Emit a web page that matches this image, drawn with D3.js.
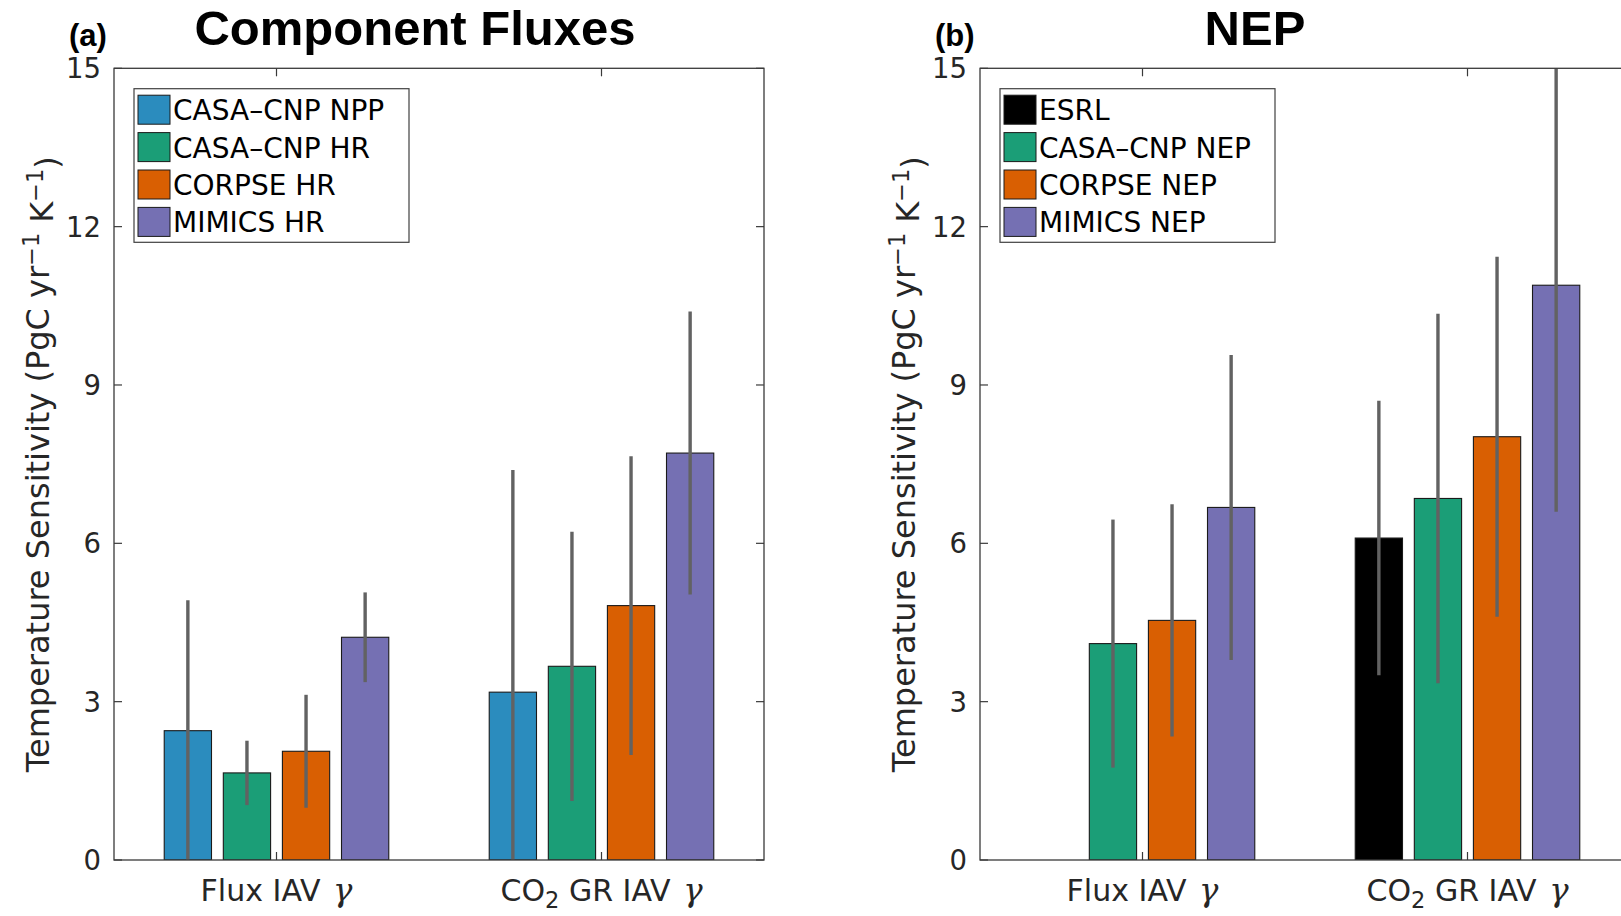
<!DOCTYPE html>
<html>
<head>
<meta charset="utf-8">
<script src="https://cdn.jsdelivr.net/npm/d3@7"></script>
<style>
  html, body { margin: 0; padding: 0; background: #fff; overflow: hidden; }
  svg { display: block; }
</style>
</head>
<body>
<svg id="chart" width="1621" height="916"></svg>
<script>
// ---- data ----
const categories = ["Flux IAV γ", "CO₂ GR IAV γ"];
const yTicks = [0, 3, 6, 9, 12, 15];

// Panel (a): component fluxes
const seriesA = ["CASA–CNP NPP", "CASA–CNP HR", "CORPSE HR", "MIMICS HR"];
const casaNppVal = [2.45, 3.18];
const casaNppErr = [2.47, 4.21];
const casaHrVal = [1.65, 3.67];
const casaHrErr = [0.61, 2.55];
const corpseHrVal = [2.06, 4.82];
const corpseHrErr = [1.07, 2.83];
const mimicsHrVal = [4.22, 7.71];
const mimicsHrErr = [0.85, 2.68];

// Panel (b): NEP
const seriesB = ["ESRL", "CASA–CNP NEP", "CORPSE NEP", "MIMICS NEP"];
const esrlVal = [null, 6.10];
const esrlErr = [null, 2.60];
const casaNepVal = [4.10, 6.85];
const casaNepErr = [2.35, 3.50];
const corpseNepVal = [4.54, 8.02];
const corpseNepErr = [2.20, 3.41];
const mimicsNepVal = [6.68, 10.89];
const mimicsNepErr = [2.89, 4.29];

const colorsA = ["#2b8cbe", "#1b9e77", "#d95f02", "#7570b3"];
const colorsB = ["#000000", "#1b9e77", "#d95f02", "#7570b3"];

const panels = [
  {
    id: "a", tag: "(a)", title: "Component Fluxes", titleX: 415,
    left: 114, names: seriesA, colors: colorsA,
    values: [casaNppVal, casaHrVal, corpseHrVal, mimicsHrVal],
    errors: [casaNppErr, casaHrErr, corpseHrErr, mimicsHrErr]
  },
  {
    id: "b", tag: "(b)", title: "NEP", titleX: 1255,
    left: 980, names: seriesB, colors: colorsB,
    values: [esrlVal, casaNepVal, corpseNepVal, mimicsNepVal],
    errors: [esrlErr, casaNepErr, corpseNepErr, mimicsNepErr]
  }
];

// ---- layout ----
const W = 650, TOP = 68.3, BOTTOM = 860;
const FONT = "'DejaVu Sans', sans-serif";
const AXIS_COLOR = "#3a3a3a";
const TEXT_COLOR = "#262626";
const TICK_LEN = 8;

const svg = d3.select("#chart");

// Writes a label with subscript digits and italic Greek letters as tspans
function richText(sel, str) {
  let sub = false;
  for (const ch of Array.from(str)) {
    if (ch === "₂") {
      sel.append("tspan").attr("dy", "0.32em").attr("font-size", "0.75em").text("2");
      sub = true;
    } else {
      const t = sel.append("tspan").text(ch);
      if (sub) { t.attr("dy", "-0.24em"); sub = false; }
      if (ch === "γ") {
        t.attr("font-style", "italic")
         .attr("font-family", "'DejaVu Serif', serif")
         .attr("font-size", "1.08em")
         .attr("dx", 3);
      }
    }
  }
}

panels.forEach((p) => {
  const x = d3.scaleLinear().domain([0.5, 2.5]).range([p.left, p.left + W]);
  const y = d3.scaleLinear().domain([0, 15]).range([BOTTOM, TOP]);
  const nSeries = p.values.length;
  const groupWidth = Math.min(0.8, nSeries / (nSeries + 1.5));
  const slot = groupWidth / nSeries;
  const barW = slot * 0.8;

  const g = svg.append("g").attr("class", "panel-" + p.id);

  // clip region of the axes
  const clipId = "clip-" + p.id;
  svg.append("defs").append("clipPath").attr("id", clipId)
    .append("rect").attr("x", x(0.5)).attr("y", y(15)).attr("width", W).attr("height", BOTTOM - TOP);

  const plot = g.append("g").attr("clip-path", `url(#${clipId})`);

  // bars
  p.values.forEach((vals, si) => {
    const offset = (si - (nSeries - 1) / 2) * slot;
    vals.forEach((v, ci) => {
      if (v == null) return;
      const cx = ci + 1 + offset;
      plot.append("rect")
        .attr("x", x(cx - barW / 2))
        .attr("y", y(v))
        .attr("width", x(cx + barW / 2) - x(cx - barW / 2))
        .attr("height", y(0) - y(v))
        .attr("fill", p.colors[si])
        .attr("stroke", "#1a1a1a")
        .attr("stroke-width", 1.1);
    });
  });

  // error bars
  p.values.forEach((vals, si) => {
    const offset = (si - (nSeries - 1) / 2) * slot;
    vals.forEach((v, ci) => {
      if (v == null) return;
      const e = p.errors[si][ci];
      const cx = ci + 1 + offset;
      plot.append("line")
        .attr("x1", x(cx)).attr("x2", x(cx))
        .attr("y1", y(v - e)).attr("y2", y(v + e))
        .attr("stroke", "#626262")
        .attr("stroke-width", 3.4);
    });
  });

  // axes box
  g.append("rect")
    .attr("x", x(0.5)).attr("y", y(15))
    .attr("width", W).attr("height", BOTTOM - TOP)
    .attr("fill", "none").attr("stroke", AXIS_COLOR).attr("stroke-width", 1.3);

  // y ticks (inward on both sides) and labels
  yTicks.forEach(t => {
    g.append("line").attr("x1", x(0.5)).attr("x2", x(0.5) + TICK_LEN)
      .attr("y1", y(t)).attr("y2", y(t)).attr("stroke", AXIS_COLOR).attr("stroke-width", 1.2);
    g.append("line").attr("x1", x(2.5)).attr("x2", x(2.5) - TICK_LEN)
      .attr("y1", y(t)).attr("y2", y(t)).attr("stroke", AXIS_COLOR).attr("stroke-width", 1.2);
    g.append("text")
      .attr("x", x(0.5) - 13).attr("y", y(t) + 10)
      .attr("text-anchor", "end")
      .attr("font-family", FONT).attr("font-size", 27.5)
      .attr("fill", TEXT_COLOR)
      .text(t);
  });

  // x ticks (inward at top and bottom) and category labels
  categories.forEach((c, ci) => {
    const cx = x(ci + 1);
    g.append("line").attr("x1", cx).attr("x2", cx)
      .attr("y1", BOTTOM).attr("y2", BOTTOM - TICK_LEN).attr("stroke", AXIS_COLOR).attr("stroke-width", 1.2);
    g.append("line").attr("x1", cx).attr("x2", cx)
      .attr("y1", TOP).attr("y2", TOP + TICK_LEN).attr("stroke", AXIS_COLOR).attr("stroke-width", 1.2);
    const t = g.append("text")
      .attr("x", cx).attr("y", 901)
      .attr("text-anchor", "middle")
      .attr("font-family", FONT).attr("font-size", 30)
      .attr("fill", TEXT_COLOR);
    richText(t, c);
  });

  // y-axis label
  const yl = g.append("text")
    .attr("transform", `translate(${p.left - 65},${(TOP + BOTTOM) / 2}) rotate(-90)`)
    .attr("text-anchor", "middle")
    .attr("font-family", FONT).attr("font-size", 32)
    .attr("fill", TEXT_COLOR);
  yl.append("tspan").text("Temperature Sensitivity (PgC yr");
  yl.append("tspan").attr("dy", "-0.45em").attr("font-size", "0.7em").text("−1");
  yl.append("tspan").attr("dy", "0.45em").text(" K");
  yl.append("tspan").attr("dy", "-0.45em").attr("font-size", "0.7em").text("−1");
  yl.append("tspan").attr("dy", "0.45em").text(")");

  // title and panel tag
  g.append("text")
    .attr("x", p.titleX).attr("y", 45)
    .attr("text-anchor", "middle")
    .attr("font-family", "'Liberation Sans', Arial, sans-serif")
    .attr("font-weight", "bold").attr("font-size", 49)
    .attr("fill", "#000")
    .text(p.title);
  g.append("text")
    .attr("x", p.left - 45).attr("y", 46)
    .attr("font-family", "'Liberation Sans', Arial, sans-serif")
    .attr("font-weight", "bold").attr("font-size", 31)
    .attr("fill", "#000")
    .text(p.tag);

  // legend
  const lx = p.left + 20, ly = 88.7, lw = 275, lh = 153.6, rowH = 37.4;
  const leg = g.append("g");
  leg.append("rect").attr("x", lx).attr("y", ly).attr("width", lw).attr("height", lh)
    .attr("fill", "#fff").attr("stroke", "#404040").attr("stroke-width", 1.2);
  p.names.forEach((name, si) => {
    const cy = ly + 21 + si * rowH;
    leg.append("rect")
      .attr("x", lx + 4).attr("y", cy - 14.5)
      .attr("width", 32).attr("height", 29)
      .attr("fill", p.colors[si]).attr("stroke", "#1a1a1a").attr("stroke-width", 1);
    leg.append("text")
      .attr("x", lx + 39).attr("y", cy + 10.5)
      .attr("font-family", FONT).attr("font-size", 28)
      .attr("fill", "#000")
      .text(name);
  });
});
</script>
</body>
</html>
